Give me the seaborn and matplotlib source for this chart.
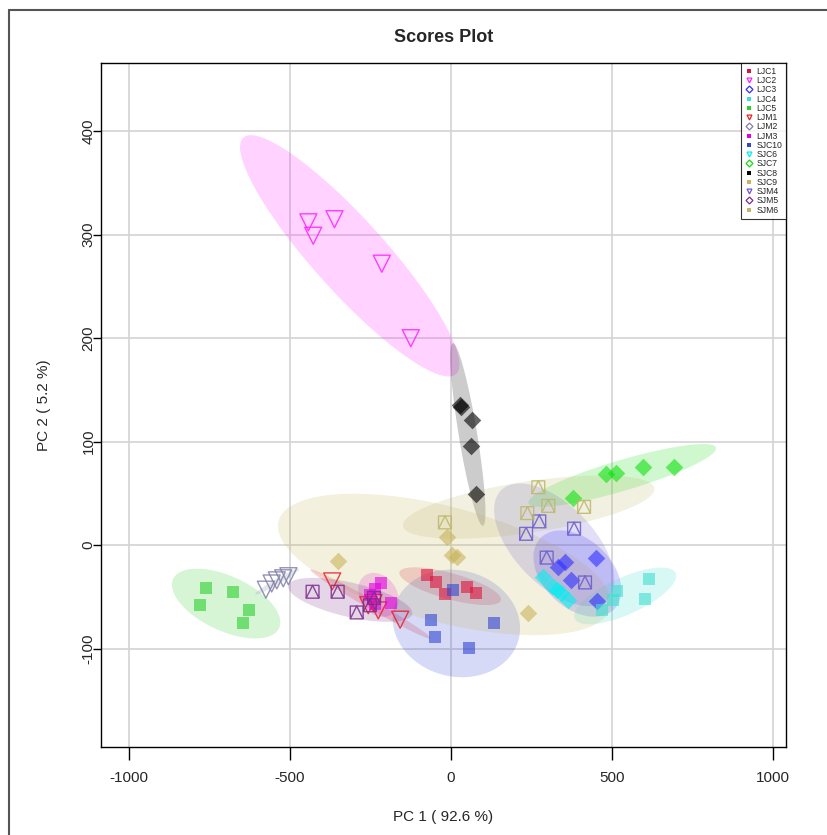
import matplotlib
matplotlib.use("Agg")
import matplotlib.pyplot as plt
from matplotlib.path import Path
from matplotlib.lines import Line2D
import seaborn as sns
import numpy as np
import pandas as pd

groups = ["LJC1", "LJC2", "LJC3", "LJC4", "LJC5", "LJM1", "LJM2", "LJM3",
          "SJC10", "SJC6", "SJC7", "SJC8", "SJC9", "SJM4", "SJM5", "SJM6"]

# PCA scores
ljc1_x = [-75, -47, -19, 49, 78]
ljc1_y = [-29, -36, -47, -40, -46]
ljc2_x = [-443, -428, -362, -215, -125]
ljc2_y = [312, 299, 315, 272, 200]
ljc3_x = [333, 354, 372, 449, 454]
ljc3_y = [-21, -16, -34, -12, -54]
ljc4_x = [616, 602, 514, 504, 468]
ljc4_y = [-33, -52, -44, -53, -63]
ljc5_x = [-761, -678, -780, -626, -647]
ljc5_y = [-41, -45, -58, -63, -75]
ljm1_x = [-369, -257, -241, -226, -158]
ljm1_y = [-35, -58, -56, -63, -72]
ljm2_x = [-575, -557, -541, -521, -505]
ljm2_y = [-43, -37, -34, -32, -30]
ljm3_x = [-218, -236, -252, -185, -236]
ljm3_y = [-37, -42, -48, -56, -57]
sjc10_x = [-62, -50, 5, 134, 56]
sjc10_y = [-72, -89, -43, -75, -99]
sjc6_x = [287, 313, 330, 340, 364]
sjc6_y = [-31, -39, -43, -46, -53]
sjc7_x = [378, 481, 511, 595, 693]
sjc7_y = [46, 69, 70, 76, 76]
sjc8_x = [28, 30, 64, 62, 78]
sjc8_y = [135, 134, 121, 96, 49]
sjc9_x = [-350, -13, 2, 20, 240]
sjc9_y = [-15, 8, -9, -11, -66]
sjm4_x = [274, 233, 382, 297, 416]
sjm4_y = [23, 11, 16, -12, -36]
sjm5_x = [-430, -352, -293, -239, -252]
sjm5_y = [-45, -45, -65, -51, -58]
sjm6_x = [271, 302, 413, 237, -19]
sjm6_y = [56, 38, 37, 31, 22]

xs = [ljc1_x, ljc2_x, ljc3_x, ljc4_x, ljc5_x, ljm1_x, ljm2_x, ljm3_x,
      sjc10_x, sjc6_x, sjc7_x, sjc8_x, sjc9_x, sjm4_x, sjm5_x, sjm6_x]
ys = [ljc1_y, ljc2_y, ljc3_y, ljc4_y, ljc5_y, ljm1_y, ljm2_y, ljm3_y,
      sjc10_y, sjc6_y, sjc7_y, sjc8_y, sjc9_y, sjm4_y, sjm5_y, sjm6_y]

df = pd.concat(
    [pd.DataFrame({"PC1": x, "PC2": y, "group": g}) for g, x, y in zip(groups, xs, ys)],
    ignore_index=True,
)

colors = {
    "LJC1": "#DC143C", "LJC2": "#FF22FF", "LJC3": "#2F2FFF", "LJC4": "#40E0D0",
    "LJC5": "#2ED02E", "LJM1": "#E8202A", "LJM2": "#8080A8", "LJM3": "#E000E0",
    "SJC10": "#3246D2", "SJC6": "#00F0F0", "SJC7": "#10E010", "SJC8": "#000000",
    "SJC9": "#C8B45A", "SJM4": "#6A5ACD", "SJM5": "#7B2D8B", "SJM6": "#BDB76B",
}

# square with triangle inside (R pch 14)
boxtri = Path(
    [(-1, -1), (1, -1), (1, 1), (-1, 1), (-1, -1), (-1, -1), (0, 1), (1, -1)],
    [Path.MOVETO, Path.LINETO, Path.LINETO, Path.LINETO, Path.CLOSEPOLY,
     Path.MOVETO, Path.LINETO, Path.LINETO],
)

plot_marker = {
    "LJC1": "s", "LJC2": "v", "LJC3": "D", "LJC4": "s", "LJC5": "s", "LJM1": "v",
    "LJM2": "v", "LJM3": "s", "SJC10": "s", "SJC6": "D", "SJC7": "D", "SJC8": "D",
    "SJC9": "D", "SJM4": boxtri, "SJM5": boxtri, "SJM6": boxtri,
}
legend_marker = {
    "LJC1": "s", "LJC2": "v", "LJC3": "D", "LJC4": "s", "LJC5": "s", "LJM1": "v",
    "LJM2": "D", "LJM3": "s", "SJC10": "s", "SJC6": "v", "SJC7": "D", "SJC8": "s",
    "SJC9": "s", "SJM4": "v", "SJM5": "D", "SJM6": "s",
}

sns.set_theme(style="whitegrid")
plt.rcParams["font.family"] = ["Liberation Sans", "DejaVu Sans"]
plt.rcParams["axes.unicode_minus"] = False

fig = plt.figure(figsize=(8.27, 8.35), dpi=100)
ax = fig.add_axes([0.1221, 0.1054, 0.8283, 0.8192])

# 95% confidence ellipses from each group's covariance
t = np.sqrt(5.991)
theta = np.linspace(0, 2 * np.pi, 200)
for g in groups:
    sub = df[df["group"] == g]
    pts = sub[["PC1", "PC2"]].to_numpy(dtype=float)
    mu = pts.mean(axis=0)
    cov = np.cov(pts, rowvar=False)
    vals, vecs = np.linalg.eigh(cov)
    vals = np.clip(vals, 1e-6, None)
    circ = np.vstack([np.cos(theta), np.sin(theta)])
    ell = (vecs @ np.diag(np.sqrt(vals)) @ circ) * t + mu[:, None]
    ax.fill(ell[0], ell[1], color=colors[g], alpha=0.2, lw=0, zorder=1)

for g in groups:
    sub = df[df["group"] == g]
    m = plot_marker[g]
    if m in ("s", "D"):
        sns.scatterplot(data=sub, x="PC1", y="PC2", marker=m, color=colors[g],
                        alpha=0.6, s=85 if m == "s" else 80, linewidth=0,
                        ax=ax, zorder=3, legend=False)
    else:
        sns.scatterplot(data=sub, x="PC1", y="PC2", marker=m, facecolors="none",
                        edgecolor=colors[g], alpha=0.85, s=150 if m == "v" else 85,
                        linewidth=1.0, ax=ax, zorder=3, legend=False)

ax.set_xlim(-1087, 1040)
ax.set_ylim(-195, 466)
ax.set_xticks([-1000, -500, 0, 500, 1000])
ax.set_yticks([-100, 0, 100, 200, 300, 400])
ax.grid(True, color="#D3D3D3", linewidth=1.2, zorder=0)
ax.set_axisbelow(True)
for sp in ax.spines.values():
    sp.set_color("black")
    sp.set_linewidth(1.0)
ax.tick_params(axis="x", direction="out", length=9, width=1,
               color="black", labelsize=11, pad=8, bottom=True)
ax.tick_params(axis="y", direction="out", length=6, width=1,
               color="black", labelsize=11, pad=-2, left=True)
for lab in ax.get_yticklabels():
    lab.set_rotation(90)
    lab.set_va("center")
ax.set_xlabel("PC 1 ( 92.6 %)", fontsize=11, labelpad=18)
ax.set_ylabel("PC 2 ( 5.2 %)", fontsize=11, labelpad=22)
ax.set_title("Scores Plot", fontsize=13, fontweight="bold", pad=15)

handles = []
for g in groups:
    m = legend_marker[g]
    filled = m == "s"
    handles.append(Line2D([], [], linestyle="none", marker=m, markersize=3.2 if filled else 3.5,
                          markerfacecolor=colors[g] if filled else "none",
                          markeredgecolor=colors[g], markeredgewidth=0.9 if not filled else 0))
leg = ax.legend(handles, groups, loc="upper right", fontsize=6.2, frameon=True,
                borderaxespad=0, labelspacing=0.03, handlelength=1.0,
                handletextpad=0.3, borderpad=0.45, fancybox=False)
leg.get_frame().set_edgecolor("black")
leg.get_frame().set_linewidth(0.8)

# outer frame of the image
fig.add_artist(Line2D([0.0109, 1.0], [0.988, 0.988], transform=fig.transFigure,
                      color="#555555", lw=1.5))
fig.add_artist(Line2D([0.0109, 0.0109], [0.0, 0.988], transform=fig.transFigure,
                      color="#555555", lw=1.5))

fig.savefig("out.png", dpi=100)
